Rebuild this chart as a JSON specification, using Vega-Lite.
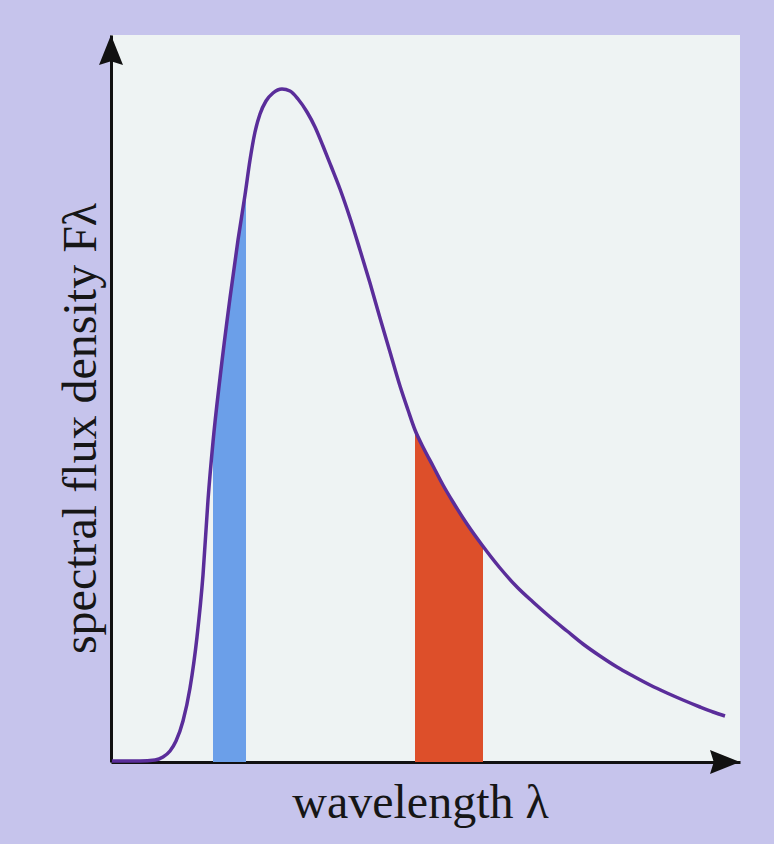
{
  "$schema": "https://vega.github.io/schema/vega-lite/v6.json",
  "width": 629,
  "height": 727,
  "autosize": {"type": "none"},
  "padding": {"left": 111, "top": 35, "right": 34, "bottom": 82},
  "background": "#c6c4ec",
  "view": {"fill": "#eef3f3", "stroke": null},
  "datasets": {
    "curve": [
      {"wl": 1, "flux": 1}, {"wl": 29, "flux": 1}, {"wl": 44, "flux": 2}, {"wl": 52, "flux": 5},
      {"wl": 59, "flux": 11}, {"wl": 65, "flux": 21}, {"wl": 72, "flux": 41}, {"wl": 79, "flux": 74},
      {"wl": 86, "flux": 125}, {"wl": 92, "flux": 187}, {"wl": 97, "flux": 262}, {"wl": 102, "flux": 320},
      {"wl": 109, "flux": 384}, {"wl": 119, "flux": 464}, {"wl": 127, "flux": 522}, {"wl": 134, "flux": 567},
      {"wl": 139, "flux": 602}, {"wl": 144, "flux": 630}, {"wl": 149, "flux": 648}, {"wl": 155, "flux": 661},
      {"wl": 162, "flux": 669}, {"wl": 171, "flux": 673}, {"wl": 179, "flux": 671}, {"wl": 187, "flux": 663},
      {"wl": 196, "flux": 650}, {"wl": 204, "flux": 635}, {"wl": 212, "flux": 616}, {"wl": 220, "flux": 596},
      {"wl": 229, "flux": 573}, {"wl": 239, "flux": 544}, {"wl": 249, "flux": 512}, {"wl": 259, "flux": 479},
      {"wl": 269, "flux": 444}, {"wl": 279, "flux": 410}, {"wl": 289, "flux": 376}, {"wl": 297, "flux": 352},
      {"wl": 304, "flux": 332}, {"wl": 313, "flux": 313}, {"wl": 322, "flux": 296}, {"wl": 332, "flux": 277},
      {"wl": 342, "flux": 260}, {"wl": 356, "flux": 238}, {"wl": 371, "flux": 217}, {"wl": 389, "flux": 194},
      {"wl": 406, "flux": 175}, {"wl": 422, "flux": 160}, {"wl": 439, "flux": 145}, {"wl": 456, "flux": 131},
      {"wl": 472, "flux": 118}, {"wl": 489, "flux": 106}, {"wl": 506, "flux": 95}, {"wl": 522, "flux": 86},
      {"wl": 539, "flux": 77}, {"wl": 556, "flux": 69}, {"wl": 572, "flux": 62}, {"wl": 589, "flux": 55},
      {"wl": 602, "flux": 50}, {"wl": 614, "flux": 46}
    ],
    "blue": [
      {"wl": 102, "flux": 320}, {"wl": 109, "flux": 384}, {"wl": 119, "flux": 464},
      {"wl": 127, "flux": 522}, {"wl": 134, "flux": 567}, {"wl": 135, "flux": 573}
    ],
    "red": [
      {"wl": 304, "flux": 332}, {"wl": 313, "flux": 313}, {"wl": 322, "flux": 296},
      {"wl": 332, "flux": 277}, {"wl": 342, "flux": 260}, {"wl": 356, "flux": 238}, {"wl": 372, "flux": 216}
    ],
    "xtip": [{"wl": 629, "flux": 0}],
    "ytip": [{"wl": 0, "flux": 727}]
  },
  "encoding": {
    "x": {
      "field": "wl", "type": "quantitative",
      "scale": {"domain": [0, 629], "nice": false, "zero": false},
      "axis": {
        "title": "wavelength λ", "labels": false, "ticks": false, "grid": false,
        "domain": true, "domainColor": "#111111", "domainWidth": 3,
        "titleFont": "Liberation Serif", "titleFontSize": 48, "titleFontWeight": "normal",
        "titleColor": "#161616", "titleX": 309, "titleY": 55, "titleBaseline": "alphabetic", "titleAlign": "center"
      }
    },
    "y": {
      "field": "flux", "type": "quantitative",
      "scale": {"domain": [0, 727], "nice": false, "zero": true},
      "axis": {
        "title": "spectral flux density Fλ", "labels": false, "ticks": false, "grid": false,
        "domain": true, "domainColor": "#111111", "domainWidth": 3,
        "titleFont": "Liberation Serif", "titleFontSize": 48, "titleFontWeight": "normal",
        "titleColor": "#161616", "titleX": -16, "titleY": 393, "titleBaseline": "alphabetic", "titleAlign": "center", "titleAngle": -90
      }
    }
  },
  "layer": [
    {"data": {"name": "blue"}, "mark": {"type": "area", "color": "#6b9fe9", "interpolate": "monotone"}},
    {"data": {"name": "red"}, "mark": {"type": "area", "color": "#dd4f2a", "interpolate": "monotone"}},
    {"data": {"name": "curve"}, "mark": {"type": "line", "color": "#5a2d9a", "strokeWidth": 3.5, "interpolate": "monotone"}},
    {"data": {"name": "xtip"}, "mark": {"type": "point", "filled": true, "color": "#111111", "opacity": 1, "size": 900, "strokeWidth": 0, "shape": "M0,0L-2,0.8L-1.75,0L-2,-0.8Z"}},
    {"data": {"name": "ytip"}, "mark": {"type": "point", "filled": true, "color": "#111111", "opacity": 1, "size": 900, "strokeWidth": 0, "shape": "M0,0L0.8,2L0,1.75L-0.8,2Z"}}
  ]
}
